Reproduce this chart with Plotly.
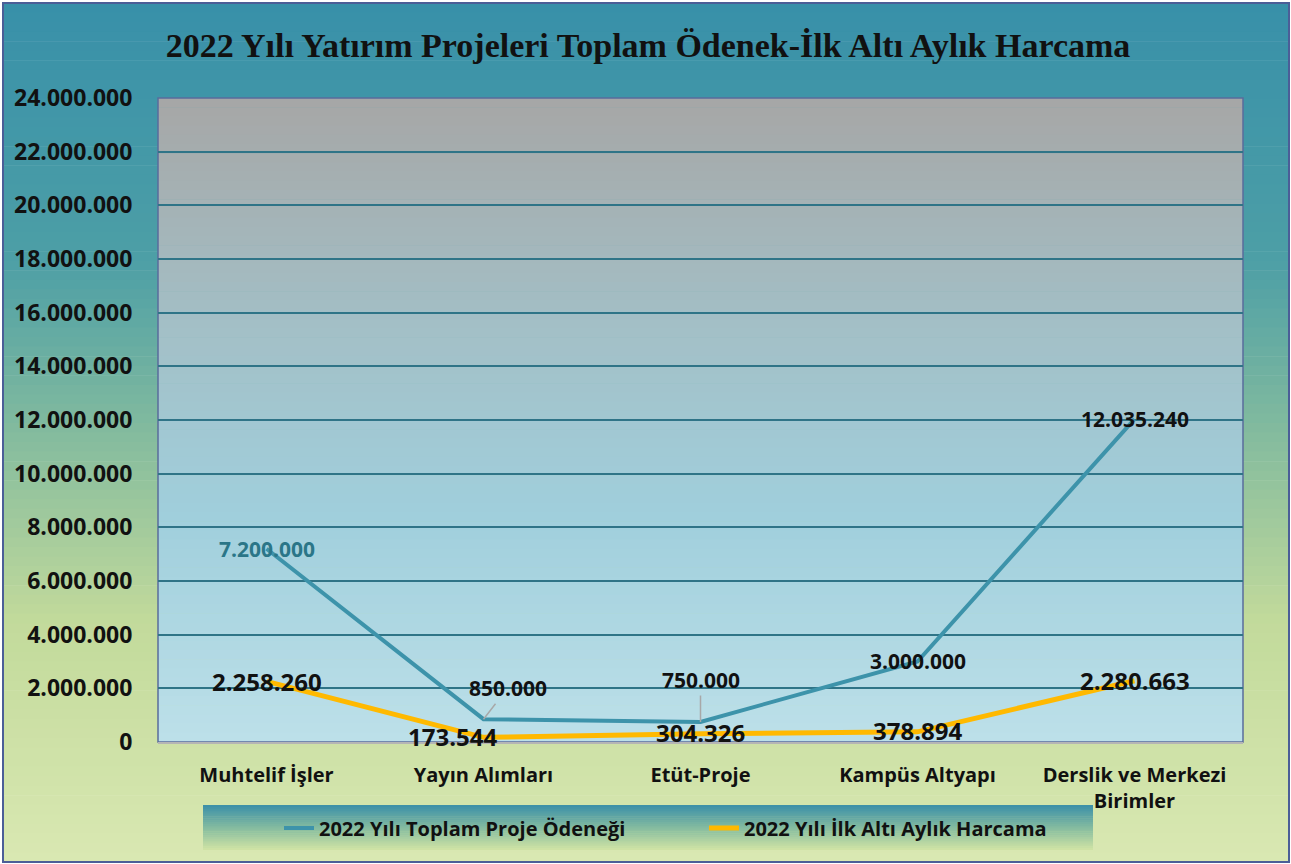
import plotly.graph_objects as go

categories = ["Muhtelif İşler", "Yayın Alımları", "Etüt-Proje", "Kampüs Altyapı", "Derslik ve Merkezi Birimler"]
tick_labels = ["Muhtelif İşler", "Yayın Alımları", "Etüt-Proje", "Kampüs Altyapı", "Derslik ve Merkezi<br>Birimler"]
odenek = [7200000, 850000, 750000, 3000000, 12035240]
harcama = [2258260, 173544, 304326, 378894, 2280663]
series_names = ["2022 Yılı Toplam Proje Ödeneği", "2022 Yılı İlk Altı Aylık Harcama"]
y_ticks = list(range(0, 24000001, 2000000))

W, H = 1291, 864
L, R, T, B = 158, 48, 98, 122
PW, PH = W - L - R, H - T - B

def px_x(x):
    return (x - L) / PW

def px_y(y):
    return (H - B - y) / PH

def hex2rgb(h):
    h = h.lstrip('#')
    return tuple(int(h[i:i + 2], 16) for i in (0, 2, 4))

def interp(stops, t):
    for (t0, c0), (t1, c1) in zip(stops[:-1], stops[1:]):
        if t0 <= t <= t1:
            f = (t - t0) / (t1 - t0) if t1 > t0 else 0
            a, b = hex2rgb(c0), hex2rgb(c1)
            return "rgb(%d,%d,%d)" % tuple(round(a[i] + (b[i] - a[i]) * f) for i in range(3))
    return stops[-1][1]

shapes = []

def gradient(x0, y0, x1, y1, stops, n):
    step = (y1 - y0) / n
    for i in range(n):
        ya = y0 + i * step
        yb = ya + step + 0.6
        c = interp(stops, (i + 0.5) / n)
        shapes.append(dict(type="rect", xref="paper", yref="paper",
                           x0=px_x(x0), x1=px_x(x1), y0=px_y(ya), y1=px_y(min(yb, y1)),
                           fillcolor=c, line=dict(width=0), layer="below"))

# outer background gradient
gradient(3, 3, 1289, 862, [(0, "#3890a9"), (0.3, "#4d9fa6"), (0.5, "#83bb9e"), (0.72, "#c2da9b"), (1, "#d9e8b2")], 90)
# plot-area gradient
gradient(L, T, L + PW, T + PH, [(0, "#a6a6a6"), (0.35, "#a3bfc6"), (0.65, "#a0cfdc"), (1, "#bde0e9")], 70)
# legend box gradient
gradient(203, 805, 1093, 850, [(0, "#3b8fa8"), (0.5, "#84bba0"), (1, "#d1e4a4")], 24)

# borders
shapes.append(dict(type="rect", xref="paper", yref="paper", x0=px_x(3), x1=px_x(1289), y0=px_y(3), y1=px_y(862),
                   line=dict(color="#4b5e97", width=2), layer="above"))
shapes.append(dict(type="rect", xref="paper", yref="paper", x0=0, x1=1, y0=0, y1=1,
                   line=dict(color="#5a6c9c", width=1.5), layer="below"))

teal = "#3d93aa"
orange = "#ffb900"

fig = go.Figure()
fig.add_trace(go.Scatter(x=categories, y=odenek, mode="lines", name=series_names[0],
                         line=dict(color=teal, width=4)))
fig.add_trace(go.Scatter(x=categories, y=harcama, mode="lines", name=series_names[1],
                         line=dict(color=orange, width=5)))

teal_font = dict(family="Open Sans", size=21, color="#111111", weight="bold")
orange_font = dict(family="Open Sans", size=24, color="#111111", weight="bold")

def fmt(v):
    return "{:,}".format(v).replace(",", ".")

annotations = []
# label placement offsets (pixels) for each point
odenek_off = [(0, 0, None), (24, -31, True), (0, -42, True), (0, -1, None), (0, 0, None)]
harcama_off = [(0, 0), (-31, -1), (0, -1), (0, -1), (0, 0)]
for i, (c, v) in enumerate(zip(categories, odenek)):
    dx, dy, arrow = odenek_off[i]
    col = "#2b7688" if i == 0 else "#111111"
    f = dict(teal_font, color=col)
    if arrow:
        annotations.append(dict(x=c, y=v, xref="x", yref="y", text=fmt(v), showarrow=True,
                                ax=dx, ay=dy, arrowhead=0, arrowwidth=1.5, arrowcolor="#a8a8a8",
                                standoff=0, font=f))
    else:
        annotations.append(dict(x=c, y=v, xref="x", yref="y", text=fmt(v), showarrow=False,
                                xshift=dx, yshift=-dy, font=f))
for i, (c, v) in enumerate(zip(categories, harcama)):
    dx, dy = harcama_off[i]
    annotations.append(dict(x=c, y=v, xref="x", yref="y", text=fmt(v), showarrow=False,
                            xshift=dx, yshift=-dy, font=orange_font))

fig.update_layout(
    width=W, height=H,
    margin=dict(l=L, r=R, t=T, b=B, pad=0),
    paper_bgcolor="white",
    plot_bgcolor="rgba(0,0,0,0)",
    separators=",.",
    title=dict(text="2022 Yılı Yatırım Projeleri Toplam Ödenek-İlk Altı Aylık Harcama",
               x=0.502, xanchor="center", y=1 - 45 / H, yanchor="middle",
               font=dict(family="Liberation Serif", size=34, color="#111111", weight="bold")),
    xaxis=dict(type="category", range=[-0.5, 4.5], tickvals=categories, ticktext=tick_labels,
               showgrid=False, zeroline=False, showline=True, linecolor="#b5b5b5", linewidth=1.5,
               ticks="outside", ticklen=14, tickcolor="rgba(0,0,0,0)",
               tickfont=dict(family="Open Sans", size=20, color="#111111", weight="bold")),
    yaxis=dict(range=[0, 24000000], tickvals=y_ticks, tickformat=",d",
               showgrid=True, gridcolor="#2f7487", gridwidth=1.8, zeroline=False,
               ticks="outside", ticklen=20, tickcolor="rgba(0,0,0,0)",
               tickfont=dict(family="Open Sans", size=23, color="#111111", weight="bold")),
    legend=dict(orientation="h", x=px_x(704), xanchor="center", y=px_y(828), yanchor="middle",
                bgcolor="rgba(0,0,0,0)", entrywidth=380, entrywidthmode="pixels",
                font=dict(family="Open Sans", size=20, color="#111111", weight="bold")),
    shapes=shapes,
    annotations=annotations,
)

fig.write_html("out.html")
